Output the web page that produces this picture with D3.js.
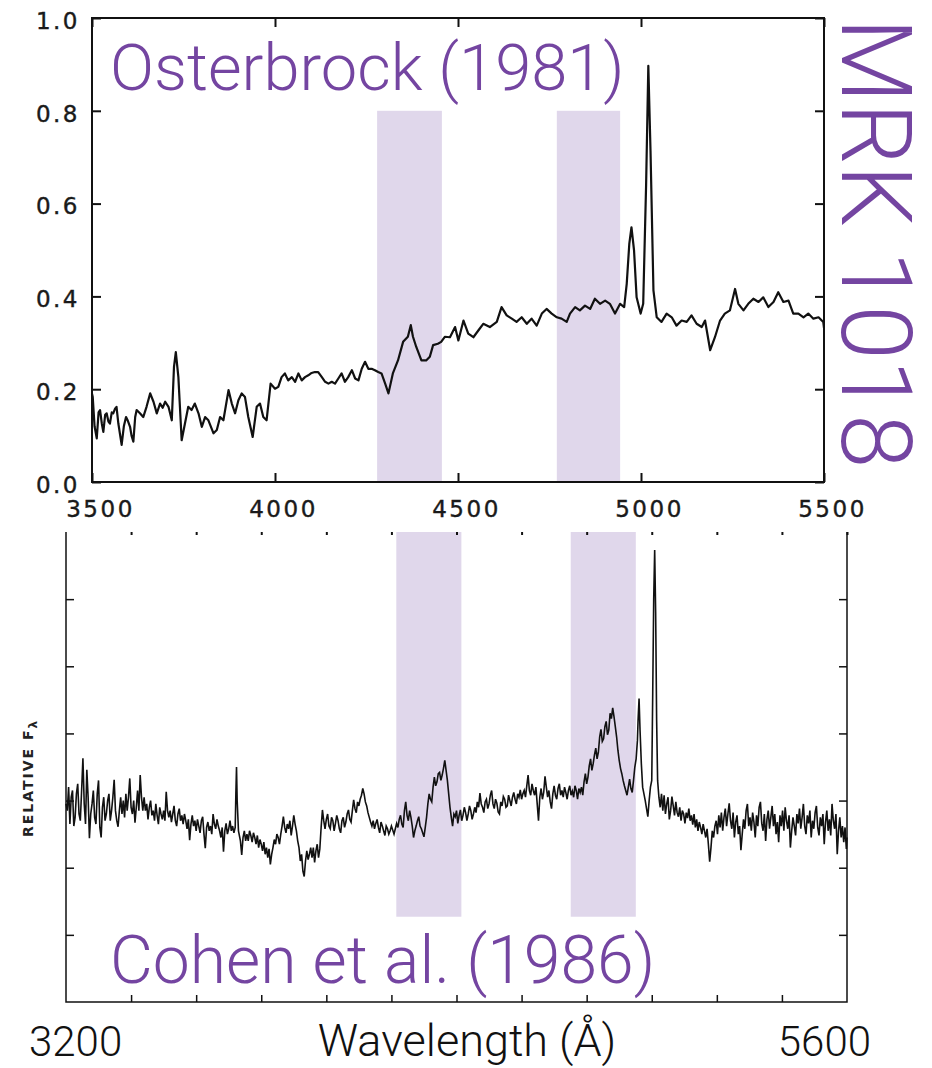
<!DOCTYPE html>
<html>
<head>
<meta charset="utf-8">
<script src="https://cdn.jsdelivr.net/npm/d3@7"></script>
<style>
  body { margin: 0; background: #fff; }
  svg { display: block; }
</style>
</head>
<body>
<div id="chart"></div>
<script>
// Osterbrock (1981) spectrum, [wavelength (A), relative flux]
var osterbrock = [
  [3500,0.190],[3502,0.183],[3507,0.120],[3513,0.094],[3518,0.150],[3522,0.155],[3527,0.125],[3531,0.108],[3536,0.145],[3540,0.148],
  [3545,0.130],[3549,0.126],[3554,0.150],[3558,0.148],[3563,0.158],[3567,0.162],[3572,0.126],[3581,0.080],[3587,0.120],[3593,0.140],
  [3598,0.132],[3604,0.119],[3608,0.100],[3613,0.087],[3618,0.140],[3622,0.155],[3631,0.148],[3640,0.140],[3649,0.162],[3659,0.191],
  [3668,0.173],[3677,0.148],[3686,0.169],[3693,0.160],[3700,0.173],[3709,0.162],[3718,0.133],[3724,0.248],[3729,0.280],[3736,0.226],
  [3745,0.090],[3754,0.126],[3763,0.162],[3772,0.155],[3781,0.169],[3791,0.148],[3800,0.119],[3809,0.140],[3818,0.133],[3832,0.105],
  [3841,0.112],[3850,0.140],[3859,0.133],[3873,0.198],[3882,0.169],[3891,0.148],[3900,0.176],[3909,0.191],[3918,0.183],[3927,0.140],
  [3939,0.097],[3950,0.162],[3959,0.169],[3968,0.140],[3977,0.133],[3988,0.212],[4000,0.201],[4009,0.205],[4018,0.226],[4027,0.234],
  [4036,0.219],[4046,0.226],[4055,0.216],[4064,0.234],[4073,0.219],[4082,0.226],[4091,0.230],[4100,0.235],[4109,0.237],[4118,0.237],
  [4128,0.226],[4137,0.216],[4146,0.212],[4155,0.216],[4164,0.212],[4173,0.223],[4182,0.234],[4191,0.216],[4200,0.226],[4210,0.241],
  [4219,0.223],[4228,0.219],[4237,0.244],[4246,0.259],[4255,0.244],[4264,0.244],[4273,0.241],[4282,0.237],[4291,0.234],[4301,0.212],
  [4310,0.191],[4322,0.234],[4336,0.262],[4350,0.302],[4363,0.313],[4371,0.338],[4377,0.313],[4386,0.291],[4400,0.262],[4413,0.262],
  [4423,0.270],[4432,0.295],[4445,0.298],[4454,0.302],[4464,0.313],[4478,0.312],[4492,0.334],[4501,0.305],[4515,0.348],[4528,0.320],
  [4542,0.312],[4556,0.327],[4569,0.341],[4587,0.334],[4606,0.345],[4619,0.377],[4633,0.359],[4647,0.352],[4660,0.345],[4674,0.355],
  [4688,0.341],[4701,0.352],[4715,0.337],[4729,0.363],[4742,0.373],[4756,0.363],[4770,0.355],[4783,0.352],[4797,0.345],[4806,0.363],
  [4820,0.377],[4833,0.370],[4847,0.380],[4861,0.373],[4874,0.395],[4888,0.384],[4902,0.391],[4915,0.384],[4929,0.363],[4943,0.384],
  [4954,0.377],[4961,0.427],[4968,0.513],[4974,0.549],[4981,0.499],[4988,0.398],[4999,0.363],[5006,0.384],[5014,0.642],[5020,0.897],
  [5026,0.714],[5034,0.413],[5043,0.355],[5056,0.345],[5070,0.363],[5084,0.355],[5097,0.337],[5111,0.348],[5125,0.345],[5138,0.359],
  [5152,0.341],[5166,0.334],[5175,0.348],[5189,0.284],[5202,0.312],[5216,0.348],[5229,0.363],[5243,0.370],[5257,0.416],[5266,0.384],
  [5280,0.370],[5293,0.384],[5307,0.395],[5321,0.388],[5334,0.398],[5348,0.377],[5362,0.388],[5375,0.409],[5389,0.388],[5403,0.391],
  [5416,0.363],[5430,0.363],[5444,0.355],[5457,0.363],[5471,0.352],[5485,0.355],[5498,0.345],[5500,0.332]
]
var osterbrockTicksX = [3500, 4000, 4500, 5000, 5500]
var osterbrockTicksY = [0, 0.2, 0.4, 0.6, 0.8, 1.0]
var osterbrockBands = [[4279, 4456], [4770, 4943]]
var osterbrockBandFlux = [0, 0.8]

// Cohen et al. (1986) spectrum, [wavelength (A), relative flux]
var cohen = [
  [3200,2.95],[3204,2.85],[3208,3.20],[3212,2.65],[3216,3.05],[3220,3.15],[3224,2.62],[3228,2.75],[3232,3.10],[3236,3.25],
  [3240,2.80],[3244,2.70],[3248,3.15],[3252,3.63],[3256,2.95],[3260,2.65],[3264,3.46],[3268,3.05],[3272,2.44],[3276,2.80],
  [3280,2.95],[3284,3.15],[3288,2.75],[3292,2.65],[3296,3.10],[3300,3.30],[3304,2.60],[3308,2.45],[3312,2.90],[3316,3.05],
  [3320,2.70],[3324,2.80],[3328,3.00],[3332,3.10],[3336,2.70],[3340,2.85],[3344,3.05],[3348,3.31],[3352,2.85],[3356,2.70],
  [3360,2.61],[3364,2.85],[3368,3.05],[3372,2.80],[3376,3.00],[3380,2.75],[3384,3.10],[3388,2.85],[3392,3.05],[3396,3.33],
  [3400,2.90],[3404,2.80],[3408,3.00],[3412,2.67],[3416,2.90],[3420,3.15],[3424,2.85],[3428,3.38],[3432,3.05],[3436,2.85],
  [3440,3.05],[3444,2.85],[3448,2.95],[3452,2.72],[3456,2.90],[3460,3.00],[3464,2.78],[3468,2.85],[3472,2.70],[3476,2.95],
  [3480,2.78],[3484,2.65],[3488,2.90],[3492,2.80],[3496,2.72],[3500,2.85],[3504,2.70],[3508,3.13],[3512,2.85],[3516,2.75],
  [3520,2.85],[3524,2.68],[3528,2.80],[3532,2.92],[3536,2.70],[3540,2.62],[3544,2.80],[3548,2.88],[3552,2.70],[3556,2.78],
  [3560,2.65],[3564,2.80],[3568,2.70],[3572,2.58],[3576,2.72],[3580,2.41],[3584,2.65],[3588,2.78],[3592,2.62],[3596,2.70],
  [3600,2.55],[3604,2.72],[3608,2.62],[3612,2.52],[3616,2.70],[3620,2.76],[3624,2.50],[3628,2.29],[3632,2.60],[3636,2.68],
  [3640,2.55],[3644,2.62],[3648,2.50],[3652,2.80],[3656,2.65],[3660,2.58],[3664,2.72],[3668,2.62],[3672,2.55],[3676,2.45],
  [3680,2.60],[3684,2.24],[3688,2.55],[3692,2.66],[3696,2.50],[3700,2.58],[3704,2.70],[3708,2.55],[3712,2.62],[3716,2.52],
  [3720,2.60],[3722,3.10],[3724,3.50],[3726,3.00],[3730,2.55],[3736,2.40],[3740,2.19],[3744,2.45],[3748,2.55],[3752,2.40],
  [3756,2.50],[3760,2.40],[3764,2.55],[3768,2.48],[3772,2.38],[3776,2.52],[3780,2.45],[3784,2.35],[3788,2.48],[3792,2.30],
  [3796,2.42],[3800,2.35],[3804,2.25],[3808,2.38],[3812,2.20],[3816,2.30],[3820,2.15],[3824,2.28],[3828,2.05],[3832,2.20],
  [3836,2.30],[3840,2.42],[3844,2.35],[3848,2.50],[3852,2.45],[3856,2.35],[3860,2.50],[3864,2.62],[3868,2.76],[3872,2.60],
  [3876,2.52],[3880,2.65],[3884,2.58],[3888,2.70],[3892,2.48],[3896,2.62],[3900,2.78],[3904,2.65],[3908,2.55],[3912,2.40],
  [3916,2.30],[3920,2.10],[3924,2.20],[3928,1.95],[3932,1.87],[3936,2.10],[3940,2.25],[3944,2.12],[3948,2.20],[3952,2.30],
  [3956,2.15],[3960,2.30],[3964,2.08],[3968,2.25],[3972,2.35],[3976,2.15],[3980,2.28],[3984,2.60],[3988,2.86],[3992,2.70],
  [3996,2.58],[4000,2.72],[4004,2.80],[4008,2.62],[4012,2.58],[4016,2.75],[4020,2.70],[4024,2.55],[4028,2.66],[4032,2.78],
  [4036,2.70],[4040,2.58],[4044,2.52],[4048,2.70],[4052,2.75],[4056,2.60],[4060,2.68],[4064,2.80],[4068,2.86],[4072,2.72],
  [4076,2.68],[4080,2.85],[4084,3.01],[4088,2.88],[4092,2.82],[4096,2.98],[4100,2.92],[4104,3.02],[4108,3.08],[4112,3.18],
  [4116,3.10],[4120,2.98],[4124,2.92],[4128,2.82],[4132,2.75],[4136,2.68],[4140,2.62],[4144,2.70],[4148,2.58],[4152,2.66],
  [4156,2.72],[4160,2.60],[4164,2.52],[4168,2.68],[4172,2.62],[4176,2.55],[4180,2.48],[4184,2.62],[4188,2.58],[4192,2.50],
  [4196,2.55],[4200,2.62],[4204,2.56],[4208,2.50],[4212,2.58],[4216,2.66],[4220,2.60],[4224,2.72],[4228,2.78],[4232,2.65],
  [4236,2.60],[4240,2.85],[4244,2.98],[4248,2.78],[4252,2.70],[4256,2.85],[4260,2.75],[4264,2.62],[4268,2.45],[4272,2.55],
  [4276,2.62],[4280,2.70],[4284,2.76],[4288,2.62],[4292,2.58],[4296,2.52],[4300,2.46],[4304,2.60],[4308,2.75],[4312,2.95],
  [4316,3.10],[4320,3.02],[4324,2.98],[4328,3.20],[4332,3.35],[4336,3.22],[4340,3.28],[4344,3.40],[4348,3.42],[4352,3.30],
  [4356,3.38],[4360,3.48],[4364,3.60],[4368,3.45],[4372,3.30],[4376,3.10],[4380,2.90],[4384,2.75],[4388,2.62],[4392,2.80],
  [4396,2.76],[4400,2.85],[4404,2.66],[4408,2.78],[4412,2.86],[4416,2.70],[4420,2.78],[4424,2.90],[4428,2.82],[4432,2.70],
  [4436,2.80],[4440,2.92],[4444,2.85],[4448,2.72],[4452,2.80],[4456,2.90],[4460,2.82],[4464,2.98],[4468,2.90],[4472,3.11],
  [4476,2.95],[4480,2.90],[4484,2.82],[4488,2.98],[4492,3.02],[4496,2.88],[4500,2.95],[4504,3.08],[4508,3.15],[4512,2.95],
  [4516,2.88],[4520,3.02],[4524,2.96],[4528,2.83],[4532,2.80],[4536,2.98],[4540,2.92],[4544,3.06],[4548,3.02],[4552,2.90],
  [4556,2.92],[4560,3.08],[4564,3.00],[4568,2.92],[4572,3.05],[4576,3.12],[4580,3.02],[4584,2.95],[4588,3.10],[4592,3.05],
  [4596,3.16],[4600,3.02],[4604,3.10],[4608,3.15],[4612,3.05],[4616,3.22],[4620,3.38],[4624,3.15],[4628,3.08],[4632,3.25],
  [4636,3.15],[4640,3.08],[4644,3.20],[4648,2.95],[4652,2.70],[4656,3.05],[4660,3.18],[4664,3.02],[4668,3.12],[4672,3.36],
  [4676,3.20],[4680,3.05],[4684,3.15],[4688,2.98],[4692,2.88],[4696,3.10],[4700,3.22],[4704,3.08],[4708,3.02],[4712,3.18],
  [4716,3.25],[4720,3.08],[4724,3.15],[4728,3.05],[4732,3.20],[4736,3.12],[4740,3.02],[4744,3.15],[4748,3.22],[4752,3.08],
  [4756,3.14],[4760,3.05],[4764,3.22],[4768,3.15],[4772,3.02],[4776,3.18],[4780,3.12],[4784,3.20],[4788,3.08],[4792,3.28],
  [4796,3.40],[4800,3.25],[4804,3.35],[4808,3.52],[4812,3.62],[4816,3.45],[4820,3.55],[4824,3.68],[4828,3.78],[4832,3.62],
  [4836,3.72],[4840,3.95],[4844,4.06],[4848,3.88],[4852,3.92],[4856,4.10],[4860,4.18],[4864,3.98],[4868,4.05],[4872,4.30],
  [4876,4.22],[4880,4.38],[4884,4.25],[4888,4.10],[4892,3.95],[4896,3.75],[4900,3.60],[4904,3.48],[4908,3.40],[4912,3.30],
  [4916,3.22],[4920,3.15],[4924,3.08],[4928,3.20],[4932,3.32],[4936,3.18],[4940,3.12],[4944,3.30],[4948,3.50],[4952,3.62],
  [4956,3.90],[4958,4.20],[4961,4.52],[4964,4.05],[4968,3.55],[4972,3.20],[4976,3.10],[4980,3.00],[4984,2.88],[4988,2.76],
  [4992,3.00],[4996,3.20],[5000,3.30],[5003,4.60],[5006,6.00],[5009,6.73],[5012,5.80],[5015,4.20],[5018,3.30],[5022,3.05],
  [5026,2.90],[5030,3.10],[5034,2.85],[5038,3.08],[5042,2.80],[5046,2.95],[5050,3.05],[5054,2.72],[5058,2.85],[5062,3.06],
  [5066,2.92],[5070,2.78],[5074,2.98],[5078,2.82],[5082,2.76],[5086,2.90],[5090,2.70],[5094,2.85],[5098,2.80],[5102,2.66],
  [5106,2.82],[5110,2.74],[5114,2.88],[5118,2.70],[5122,2.78],[5126,2.64],[5130,2.80],[5134,2.60],[5138,2.72],[5142,2.55],
  [5146,2.68],[5150,2.60],[5154,2.50],[5158,2.65],[5162,2.55],[5166,2.45],[5170,2.58],[5174,2.35],[5178,2.09],[5182,2.30],
  [5186,2.55],[5190,2.45],[5194,2.62],[5198,2.70],[5202,2.50],[5206,2.78],[5210,2.60],[5214,2.82],[5218,2.55],[5222,2.75],
  [5226,2.88],[5230,2.62],[5234,2.80],[5238,2.96],[5242,2.70],[5246,2.58],[5250,2.82],[5254,2.45],[5258,2.68],[5262,2.78],
  [5266,2.50],[5270,2.62],[5274,2.26],[5278,2.50],[5282,2.72],[5286,2.58],[5290,2.85],[5294,2.95],[5298,2.62],[5302,2.75],
  [5306,2.55],[5310,2.82],[5314,2.68],[5318,2.45],[5322,2.78],[5326,2.62],[5330,2.90],[5334,2.98],[5338,2.66],[5342,2.55],
  [5346,2.80],[5350,2.40],[5354,2.72],[5358,2.85],[5362,2.58],[5366,2.75],[5370,2.92],[5374,2.62],[5378,2.80],[5382,2.50],
  [5386,2.68],[5390,2.38],[5394,2.78],[5398,2.62],[5402,2.85],[5406,2.55],[5410,2.90],[5414,2.70],[5418,2.58],[5422,2.78],
  [5426,2.30],[5430,2.55],[5434,2.75],[5438,2.62],[5442,2.48],[5446,2.80],[5450,2.66],[5454,2.88],[5458,2.58],[5462,2.75],
  [5466,2.95],[5470,2.62],[5474,2.50],[5478,2.78],[5482,2.66],[5486,2.85],[5490,2.45],[5494,2.70],[5498,2.58],[5502,2.82],
  [5506,2.92],[5510,2.60],[5514,2.48],[5518,2.75],[5522,2.62],[5526,2.80],[5530,2.35],[5534,2.68],[5538,2.85],[5542,2.55],
  [5546,2.72],[5550,2.48],[5554,2.95],[5558,2.70],[5562,2.58],[5566,2.80],[5570,2.20],[5574,2.55],[5578,2.75],[5582,2.45],
  [5586,2.62],[5590,2.38],[5594,2.60],[5598,2.28],[5600,2.45]
]
var cohenTicksX = [3400, 3600, 3800, 4000, 4200, 4400, 4600, 4800, 5000, 5200, 5400]
var cohenTicksY = [1, 2, 3, 4, 5, 6]
var cohenBands = [[4215, 4415], [4751, 4951]]
var cohenBandFlux = [1.27, 7]
var cohenEndLabels = [3200, 5600]

var purple = "#7445a1"
var bandFill = "#e0d7eb"
var ink = "#111"

var svg = d3.select("#chart")
  .append("svg")
    .attr("width", 932)
    .attr("height", 1068)
    .style("background", "#fff")

// ---------- Top panel (Osterbrock 1981) ----------
var xT = d3.scaleLinear().domain([3500, 5500]).range([92, 824])
var yT = d3.scaleLinear().domain([0, 1]).range([482, 18])

// Shaded bands
svg.append("g")
  .selectAll("rect")
  .data(osterbrockBands)
  .enter()
  .append("rect")
    .attr("x", function(d) { return xT(d[0]) })
    .attr("width", function(d) { return xT(d[1]) - xT(d[0]) })
    .attr("y", yT(osterbrockBandFlux[1]))
    .attr("height", yT(osterbrockBandFlux[0]) - yT(osterbrockBandFlux[1]))
    .attr("fill", bandFill)

function styleAxis(g, width) {
  g.select(".domain").remove()
  g.selectAll(".tick line").attr("stroke", ink).attr("stroke-width", width)
}

function styleTickText(g) {
  g.selectAll("text")
    .style("font-family", "DejaVu Sans")
    .style("font-size", "23px")
    .style("letter-spacing", "2.5px")
    .style("fill", "#1a1a1a")
    .style("stroke", "#1a1a1a")
    .style("stroke-width", 0.4)
}

// Left axis with labels
var gLeft = svg.append("g")
  .attr("transform", "translate(" + xT(3500) + ",0)")
  .call(d3.axisLeft(yT).tickValues(osterbrockTicksY).tickSize(-9).tickPadding(12).tickFormat(d3.format(".1f")))
styleAxis(gLeft, 2)
styleTickText(gLeft)
gLeft.selectAll("text").attr("dy", "0.45em")

// Right axis
var gRight = svg.append("g")
  .attr("transform", "translate(" + xT(5500) + ",0)")
  .call(d3.axisRight(yT).tickValues(osterbrockTicksY).tickSize(-9).tickFormat(""))
styleAxis(gRight, 2)

// Bottom axis with labels
var gBottom = svg.append("g")
  .attr("transform", "translate(0," + yT(0) + ")")
  .call(d3.axisBottom(xT).tickValues(osterbrockTicksX).tickSize(-9).tickPadding(19).tickFormat(d3.format("d")))
styleAxis(gBottom, 2)
styleTickText(gBottom)
gBottom.selectAll("text").attr("dx", 8)

// Top axis
var gTop = svg.append("g")
  .attr("transform", "translate(0," + yT(1) + ")")
  .call(d3.axisTop(xT).tickValues(osterbrockTicksX).tickSize(-9).tickFormat(""))
styleAxis(gTop, 2)

// Frame
svg.append("rect")
  .attr("x", xT(3500))
  .attr("y", yT(1))
  .attr("width", xT(5500) - xT(3500))
  .attr("height", yT(0) - yT(1))
  .attr("fill", "none")
  .attr("stroke", ink)
  .attr("stroke-width", 2)

// Spectrum
svg.append("path")
  .datum(osterbrock)
  .attr("fill", "none")
  .attr("stroke", ink)
  .attr("stroke-width", 2.2)
  .attr("stroke-linejoin", "round")
  .attr("d", d3.line()
    .x(function(d) { return xT(d[0]) })
    .y(function(d) { return yT(d[1]) }))

// ---------- Bottom panel (Cohen et al. 1986) ----------
var xB = d3.scaleLinear().domain([3200, 5600]).range([66, 847])
var yB = d3.scaleLinear().domain([0, 7]).range([1002, 532])

svg.append("g")
  .selectAll("rect")
  .data(cohenBands)
  .enter()
  .append("rect")
    .attr("x", function(d) { return xB(d[0]) })
    .attr("width", function(d) { return xB(d[1]) - xB(d[0]) })
    .attr("y", yB(cohenBandFlux[1]))
    .attr("height", yB(cohenBandFlux[0]) - yB(cohenBandFlux[1]))
    .attr("fill", bandFill)

var bLeft = svg.append("g")
  .attr("transform", "translate(" + xB(3200) + ",0)")
  .call(d3.axisLeft(yB).tickValues(cohenTicksY).tickSize(-8).tickFormat(""))
styleAxis(bLeft, 1.5)

var bRight = svg.append("g")
  .attr("transform", "translate(" + xB(5600) + ",0)")
  .call(d3.axisRight(yB).tickValues(cohenTicksY).tickSize(-8).tickFormat(""))
styleAxis(bRight, 1.5)

var bBottom = svg.append("g")
  .attr("transform", "translate(0," + yB(0) + ")")
  .call(d3.axisBottom(xB).tickValues(cohenTicksX).tickSize(-7).tickFormat(""))
styleAxis(bBottom, 1.5)

var bTop = svg.append("g")
  .attr("transform", "translate(0," + yB(7) + ")")
  .call(d3.axisTop(xB).tickValues(cohenTicksX.concat([5600])).tickSize(-3).tickFormat(""))
styleAxis(bTop, 2)

// Frame: left, bottom and right sides only
svg.append("path")
  .attr("d", "M" + xB(3200) + "," + yB(7) + "V" + yB(0) + "H" + xB(5600) + "V" + yB(7))
  .attr("fill", "none")
  .attr("stroke", ink)
  .attr("stroke-width", 1.5)

svg.append("path")
  .datum(cohen)
  .attr("fill", "none")
  .attr("stroke", ink)
  .attr("stroke-width", 1.6)
  .attr("stroke-linejoin", "miter")
  .attr("d", d3.line()
    .x(function(d) { return xB(d[0]) })
    .y(function(d) { return yB(d[1]) }))

// Y axis label
var relLabel = svg.append("text")
  .attr("transform", "translate(33,778) rotate(-90)")
  .attr("text-anchor", "middle")
  .style("font-family", "DejaVu Sans")
  .style("font-weight", "bold")
  .style("font-size", "14px")
  .style("letter-spacing", "2px")
  .style("fill", "#222")
relLabel.append("tspan").text("RELATIVE F")
relLabel.append("tspan").attr("dy", 4).style("font-size", "12px").text("λ")

// ---------- Text annotations ----------
var light = "Roboto, 'Open Sans', sans-serif"

svg.append("text")
  .attr("x", 110)
  .attr("y", 90)
  .style("font-family", light)
  .style("font-weight", 300)
  .style("font-size", "65px")
  .style("fill", purple)
  .text("Osterbrock (1981)")

svg.append("text")
  .attr("x", 110)
  .attr("y", 983)
  .style("font-family", light)
  .style("font-weight", 300)
  .style("font-size", "66px")
  .style("fill", purple)
  .text("Cohen et al. (1986)")

svg.append("text")
  .attr("transform", "translate(842,18) rotate(90)")
  .style("font-family", light)
  .style("font-weight", 300)
  .style("font-size", "98px")
  .style("fill", purple)
  .text("MRK 1018")

svg.append("text")
  .attr("x", 467)
  .attr("y", 1056)
  .attr("text-anchor", "middle")
  .style("font-family", light)
  .style("font-weight", 300)
  .style("font-size", "45px")
  .style("fill", "#111")
  .text("Wavelength (Å)")

svg.selectAll(".end-label")
  .data(cohenEndLabels)
  .enter()
  .append("text")
    .attr("class", "end-label")
    .attr("x", function(d, i) { return i === 0 ? xB(d) - 37 : xB(d) + 24 })
    .attr("y", 1056)
    .attr("text-anchor", function(d, i) { return i === 0 ? "start" : "end" })
    .style("font-family", light)
    .style("font-weight", 300)
    .style("font-size", "42px")
    .style("fill", "#111")
    .text(function(d) { return d })
</script>
</body>
</html>
